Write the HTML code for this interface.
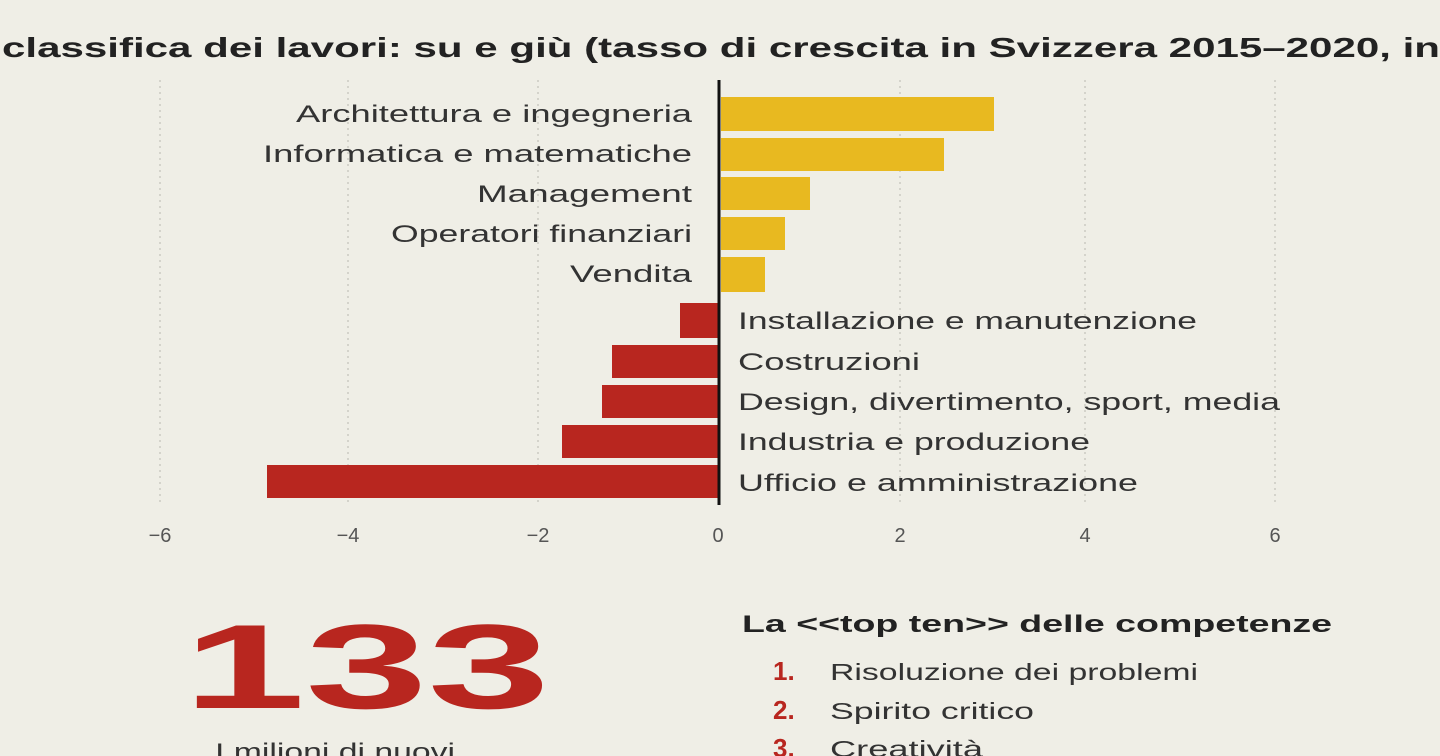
<!DOCTYPE html>
<html><head><meta charset="utf-8"><style>
html,body{margin:0;padding:0;background:#efeee6;}
svg{display:block;}
</style></head><body>
<svg width="1440" height="756" viewBox="0 0 1440 756" xmlns="http://www.w3.org/2000/svg" font-family="Liberation Sans, sans-serif">
<rect width="1440" height="756" fill="#efeee6"/>
<text x="2" y="57" font-size="28" font-weight="bold" fill="#222" textLength="1438" lengthAdjust="spacingAndGlyphs">classifica dei lavori: su e giù (tasso di crescita in Svizzera 2015–2020, in</text>
<g stroke="#d4d3cb" stroke-width="2" stroke-dasharray="2,4">
<line x1="160" y1="80" x2="160" y2="505"/><line x1="348" y1="80" x2="348" y2="505"/><line x1="538" y1="80" x2="538" y2="505"/>
<line x1="900" y1="80" x2="900" y2="505"/><line x1="1085" y1="80" x2="1085" y2="505"/><line x1="1275" y1="80" x2="1275" y2="505"/>
</g>
<g fill="#e8b920">
<rect x="721" y="97" width="273" height="34"/>
<rect x="721" y="138" width="223" height="33"/>
<rect x="721" y="177" width="89" height="33"/>
<rect x="721" y="217" width="64" height="33"/>
<rect x="721" y="257" width="44" height="35"/>
</g>
<g fill="#b8261f">
<rect x="680" y="303" width="38" height="35"/>
<rect x="612" y="345" width="106" height="33"/>
<rect x="602" y="385" width="116" height="33"/>
<rect x="562" y="425" width="156" height="33"/>
<rect x="267" y="465" width="451" height="33"/>
</g>
<line x1="719" y1="80" x2="719" y2="505" stroke="#111" stroke-width="3"/>
<g font-size="24" fill="#333" lengthAdjust="spacingAndGlyphs">
<text x="296" y="122" textLength="396" lengthAdjust="spacingAndGlyphs">Architettura e ingegneria</text>
<text x="263" y="162" textLength="429" lengthAdjust="spacingAndGlyphs">Informatica e matematiche</text>
<text x="477" y="202" textLength="215" lengthAdjust="spacingAndGlyphs">Management</text>
<text x="391" y="242" textLength="301" lengthAdjust="spacingAndGlyphs">Operatori finanziari</text>
<text x="570" y="282" textLength="122" lengthAdjust="spacingAndGlyphs">Vendita</text>
<text x="738" y="329" textLength="459" lengthAdjust="spacingAndGlyphs">Installazione e manutenzione</text>
<text x="738" y="370" textLength="182" lengthAdjust="spacingAndGlyphs">Costruzioni</text>
<text x="738" y="410" textLength="542" lengthAdjust="spacingAndGlyphs">Design, divertimento, sport, media</text>
<text x="738" y="450" textLength="352" lengthAdjust="spacingAndGlyphs">Industria e produzione</text>
<text x="738" y="491" textLength="400" lengthAdjust="spacingAndGlyphs">Ufficio e amministrazione</text>
</g>
<g font-size="20" fill="#555" text-anchor="middle">
<text x="160" y="542">−6</text><text x="348" y="542">−4</text><text x="538" y="542">−2</text><text x="718" y="542">0</text>
<text x="900" y="542">2</text><text x="1085" y="542">4</text><text x="1275" y="542">6</text>
</g>
<text x="183" y="708" font-size="120" font-weight="bold" fill="#b8261f" textLength="367" lengthAdjust="spacingAndGlyphs">133</text>
<text x="215" y="760" font-size="24" fill="#333" textLength="240" lengthAdjust="spacingAndGlyphs">I milioni di nuovi</text>
<text x="742" y="632" font-size="24" font-weight="bold" fill="#222" textLength="590" lengthAdjust="spacingAndGlyphs">La &lt;&lt;top ten&gt;&gt; delle competenze</text>
<g font-size="26" font-weight="bold" fill="#b8261f">
<text x="773" y="680">1.</text><text x="773" y="719">2.</text><text x="773" y="757">3.</text>
</g>
<g font-size="23" fill="#333">
<text x="830" y="680" textLength="368" lengthAdjust="spacingAndGlyphs">Risoluzione dei problemi</text>
<text x="830" y="719" textLength="204" lengthAdjust="spacingAndGlyphs">Spirito critico</text>
<text x="830" y="757" textLength="153" lengthAdjust="spacingAndGlyphs">Creatività</text>
</g>
</svg>
</body></html>
